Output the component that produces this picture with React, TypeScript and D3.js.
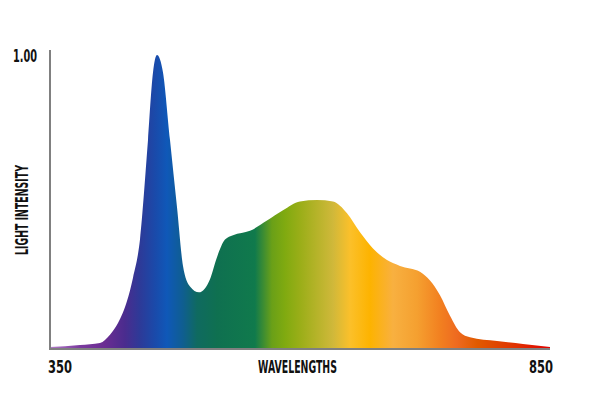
import React from "react";
import { scaleLinear, area, curveMonotoneX } from "d3";

// spectrum readings (nm, relative intensity)
const wavelengths = [350, 380, 400, 410, 418, 427, 433, 440, 448, 453, 457, 463, 470, 477, 483, 490, 499, 510, 517, 525, 533, 550, 567, 583, 600, 617, 633, 647, 660, 673, 687, 700, 720, 730, 740, 750, 760, 770, 797, 823, 850];
const intensity = [0.003, 0.01, 0.017, 0.045, 0.085, 0.16, 0.24, 0.37, 0.71, 0.94, 1.0, 0.94, 0.71, 0.48, 0.28, 0.21, 0.19, 0.235, 0.31, 0.37, 0.385, 0.4, 0.435, 0.47, 0.5, 0.505, 0.5, 0.46, 0.395, 0.34, 0.3, 0.28, 0.26, 0.23, 0.18, 0.11, 0.054, 0.037, 0.024, 0.014, 0.003];

const xTicks = [350, 850];
const yTicks = [1];
const xTitle = "WAVELENGTHS";
const yTitle = "LIGHT INTENSITY";

// colour of the fill across the spectrum
const stopNm = [350, 380, 405, 425, 440, 455, 467, 483, 497, 517, 555, 572, 585, 600, 633, 650, 670, 693, 717, 740, 757, 777, 817, 850];
const stopColor = ["#b27cc8", "#7a3a9e", "#6a2c92", "#4a2c8e", "#2d3a98", "#1a4aaa", "#0f58b8", "#0f5e90", "#0f6a60", "#0f7050", "#107a4c", "#6aa018", "#80aa10", "#9aae18", "#d0b83a", "#fbc02a", "#fdb300", "#f8b040", "#f5a030", "#f28020", "#ee6a20", "#e05a00", "#e03000", "#e00000"];

const W = 600;
const H = 400;
const font = "'Liberation Sans Narrow', 'DejaVu Sans Condensed', 'Roboto Condensed', sans-serif";

const App = () => {
  const x = scaleLinear().domain([350, 850]).range([50, 550]);
  const y = scaleLinear().domain([0, 1]).range([348, 55]);

  const pts = wavelengths.map((w, i) => ({ w, v: intensity[i] }));
  const spectrum = area<{ w: number; v: number }>()
    .x((d) => x(d.w))
    .y0(y(0))
    .y1((d) => y(d.v))
    .curve(curveMonotoneX);

  const axisY = y(0) + 1;

  return (
    <svg width={W} height={H} style={{ position: "absolute", left: 0, top: 0, background: "#fff" }}>
      <defs>
        <linearGradient id="spec" gradientUnits="userSpaceOnUse" x1={x(350)} x2={x(850)} y1={0} y2={0}>
          {stopNm.map((nm, i) => (
            <stop key={nm} offset={(x(nm) - x(350)) / (x(850) - x(350))} stopColor={stopColor[i]}/>
          ))}
        </linearGradient>
      </defs>

      <path d={spectrum(pts) || ""} fill="url(#spec)"/>

      {/* axes */}
      <line x1={x(350)} x2={x(350)} y1={50} y2={axisY + 1} stroke="#808080" strokeWidth={2}/>
      <line x1={x(350) - 1} x2={x(850)} y1={axisY} y2={axisY} stroke="#808080" strokeWidth={2}/>

      <g fontFamily={font} fontWeight="bold" fontSize={17} fill="#111">
        {yTicks.map((t) => (
          <text key={t} x={13} y={y(t) + 7} textLength={24} lengthAdjust="spacingAndGlyphs">{t.toFixed(2)}</text>
        ))}
        {xTicks.map((t, i) => (
          <text key={t} x={i === 0 ? x(t) - 2 : x(t) + 3} y={373} textAnchor={i === 0 ? "start" : "end"}
                textLength={24} lengthAdjust="spacingAndGlyphs">{t}</text>
        ))}
        <text x={297.5} y={373} textAnchor="middle" textLength={79} lengthAdjust="spacingAndGlyphs">{xTitle}</text>
        <text transform="translate(28,210) rotate(-90)" textAnchor="middle" textLength={90}
              lengthAdjust="spacingAndGlyphs">{yTitle}</text>
      </g>
    </svg>
  );
};

export default App;
